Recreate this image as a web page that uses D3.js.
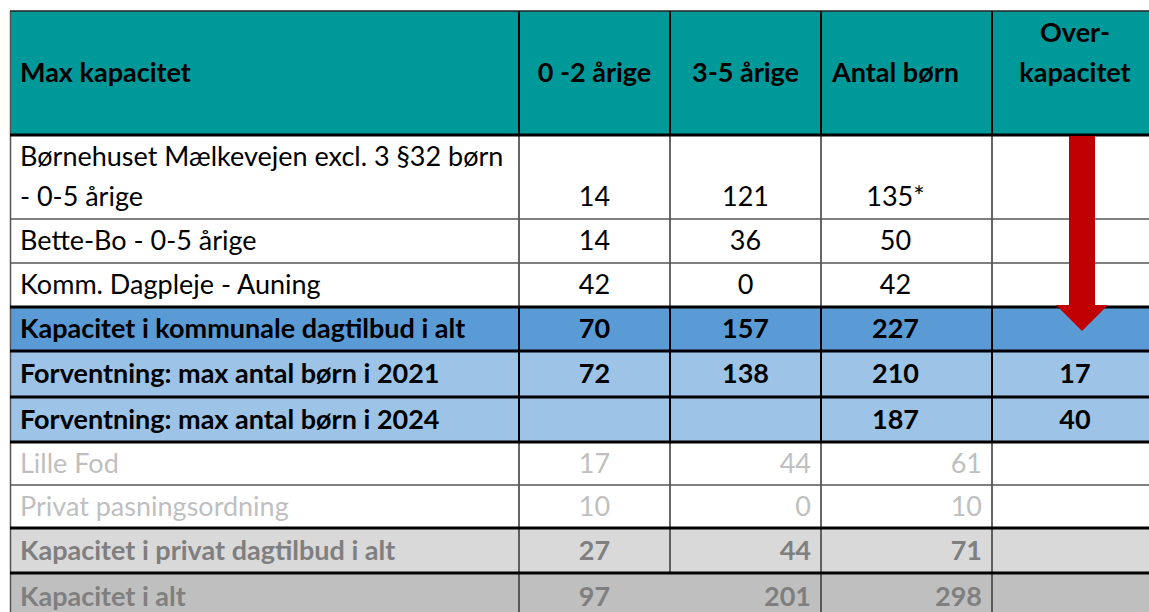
<!DOCTYPE html>
<html>
<head>
<meta charset="utf-8">
<script src="https://cdn.jsdelivr.net/npm/d3@7"></script>
<style>
  html, body { margin: 0; padding: 0; background: #fff; }
  svg { display: block; font-family: Lato, "Open Sans", sans-serif; }
</style>
</head>
<body>
<svg id="canvas" width="1149" height="612"></svg>
<script>
// table content
const headers = ["Max kapacitet", "0 -2 årige", "3-5 årige", "Antal børn", "Over-\nkapacitet"];
const rowLabels = [
  "Børnehuset Mælkevejen excl. 3 §32 børn\n- 0-5 årige",
  "Bette-Bo - 0-5 årige",
  "Komm. Dagpleje - Auning",
  "Kapacitet i kommunale dagtilbud i alt",
  "Forventning: max antal børn i 2021",
  "Forventning: max antal børn i 2024",
  "Lille Fod",
  "Privat pasningsordning",
  "Kapacitet i privat dagtilbud i alt",
  "Kapacitet i alt"
];
const age02 = ["14", "14", "42", "70", "72", "", "17", "10", "27", "97"];
const age35 = ["121", "36", "0", "157", "138", "", "44", "0", "44", "201"];
const antalBoern = ["135*", "50", "42", "227", "210", "187", "61", "10", "71", "298"];
const overKapacitet = ["", "", "", "", "17", "40", "", "", "", ""];
const rowKinds = ["plain", "plain", "plain", "sum", "forecast", "forecast", "privat", "privat", "privatSum", "total"];

// looks
const kindStyle = {
  plain:     {fill: "#ffffff", color: "#000000", weight: 400, align: "center"},
  sum:       {fill: "#5b9bd5", color: "#000000", weight: 700, align: "center"},
  forecast:  {fill: "#9dc3e6", color: "#000000", weight: 700, align: "center"},
  privat:    {fill: "#ffffff", color: "#bfbfbf", weight: 400, align: "right"},
  privatSum: {fill: "#d9d9d9", color: "#7f7f7f", weight: 700, align: "right"},
  total:     {fill: "#bfbfbf", color: "#7f7f7f", weight: 700, align: "right"}
};

const svg = d3.select("#canvas");
const fs = 27;

// column edges and row edges
const colEdges = [10, 519, 670, 821, 992, 1158];
const centerNudge = [0, 0, 0, -11, 0]; // "Antal børn" column sits a bit left of its middle
const rowEdges = [11, 135, 219, 263, 307, 351, 397, 442, 485, 528, 573, 620];
const thickAt = [135, 307, 351, 397, 442, 528, 573];

const x = d3.scaleOrdinal().domain(d3.range(5)).range(colEdges.slice(0, 5));
const w = i => colEdges[i + 1] - colEdges[i];
const mid = i => x(i) + w(i) / 2 + centerNudge[i];
const y = d3.scaleOrdinal().domain(d3.range(11)).range(rowEdges.slice(0, 11));
const h = i => rowEdges[i + 1] - rowEdges[i];

// header
svg.append("rect")
  .attr("x", colEdges[0]).attr("y", rowEdges[0])
  .attr("width", 1200).attr("height", h(0))
  .attr("fill", "#009999");

headers.forEach((txt, c) => {
  const lines = txt.split("\n");
  const t = svg.append("text")
    .attr("font-weight", 700)
    .attr("font-size", fs)
    .attr("fill", "#000")
    .attr("text-anchor", c === 0 ? "start" : "middle");
  const cx = c === 0 ? x(0) + 10 : mid(c);
  const cm = rowEdges[0] + h(0) / 2;
  lines.forEach((ln, k) => {
    const cy = lines.length === 1 ? cm : cm - 40 * (lines.length - 1 - k);
    t.append("tspan").attr("x", cx).attr("y", cy + fs * 0.35).text(ln);
  });
});

// body rows
const cols = [age02, age35, antalBoern, overKapacitet];
rowLabels.forEach((label, r) => {
  const st = kindStyle[rowKinds[r]];
  const top = y(r + 1), ht = h(r + 1);
  svg.append("rect")
    .attr("x", colEdges[0]).attr("y", top)
    .attr("width", 1200).attr("height", ht)
    .attr("fill", st.fill);

  const lines = label.split("\n");
  const lineMid = k => lines.length === 1 ? top + ht / 2 : top + ht / 2 + (k - 0.5) * 40;
  lines.forEach((ln, k) => {
    svg.append("text")
      .attr("x", x(0) + 10).attr("y", lineMid(k) + fs * 0.35)
      .attr("font-size", fs).attr("font-weight", st.weight)
      .attr("fill", st.color).text(ln);
  });

  const vy = lineMid(lines.length - 1) + fs * 0.35;
  cols.forEach((vals, ci) => {
    const c = ci + 1;
    const v = vals[r];
    if (!v) return;
    // first numeric column stays centred, others follow the row alignment
    const right = st.align === "right" && c > 1;
    svg.append("text")
      .attr("x", right ? x(c) + w(c) - 10 : mid(c))
      .attr("y", vy)
      .attr("text-anchor", right ? "end" : "middle")
      .attr("font-size", fs).attr("font-weight", st.weight)
      .attr("fill", st.color).text(v);
  });
});

// grid lines
const darkRows = r => ["sum", "forecast"].includes(rowKinds[r]);
// vertical
for (let c = 1; c < 5; c++) {
  rowEdges.slice(0, -1).forEach((top, i) => {
    const r = i - 1;
    if (r >= 0 && rowKinds[r] === "total" && c === 2) return;
    const header = i === 0;
    svg.append("line")
      .attr("x1", colEdges[c]).attr("x2", colEdges[c])
      .attr("y1", top).attr("y2", rowEdges[i + 1])
      .attr("stroke", header || (r >= 0 && darkRows(r)) ? "#000" : "#404040")
      .attr("stroke-width", header || (r >= 0 && darkRows(r)) ? 2 : 1.6);
  });
}
// left border
svg.append("line")
  .attr("x1", colEdges[0] + 0.5).attr("x2", colEdges[0] + 0.5)
  .attr("y1", rowEdges[0]).attr("y2", 612)
  .attr("stroke", "#555").attr("stroke-width", 1.5);
// top border
svg.append("line")
  .attr("x1", colEdges[0]).attr("x2", 1200)
  .attr("y1", rowEdges[0]).attr("y2", rowEdges[0])
  .attr("stroke", "#222").attr("stroke-width", 1.5);
// horizontal
rowEdges.slice(1, -1).forEach(yy => {
  const thick = thickAt.includes(yy);
  svg.append("line")
    .attr("x1", colEdges[0]).attr("x2", 1200)
    .attr("y1", yy).attr("y2", yy)
    .attr("stroke", thick ? "#000" : "#555")
    .attr("stroke-width", thick ? 3 : 1.6);
});

// red arrow in the over-capacity column
const arrowX = x(4) + 90;
const shaftW = 26, headW = 52, headTop = 305, tip = 331;
svg.append("path")
  .attr("d", d3.line()([
    [arrowX - shaftW / 2, rowEdges[1] + 1],
    [arrowX + shaftW / 2, rowEdges[1] + 1],
    [arrowX + shaftW / 2, headTop],
    [arrowX + headW / 2, headTop],
    [arrowX, tip],
    [arrowX - headW / 2, headTop],
    [arrowX - shaftW / 2, headTop]
  ]) + "Z")
  .attr("fill", "#c00000");
</script>
</body>
</html>
